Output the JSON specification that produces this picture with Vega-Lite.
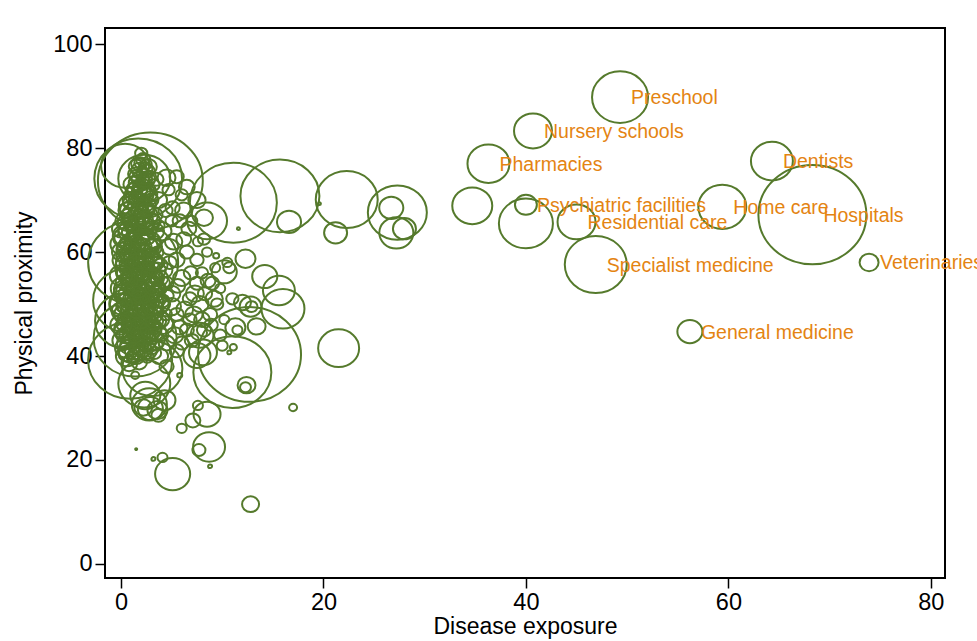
{
  "$schema": "https://vega.github.io/schema/vega-lite/v6.json",
  "width": 840,
  "height": 550,
  "autosize": {"type": "none"},
  "padding": {"left": 105, "top": 28, "right": 32, "bottom": 63},
  "background": "white",
  "config": {
    "view": {"stroke": "black", "strokeWidth": 2},
    "axis": {
      "domain": false, "grid": false,
      "labelColor": "black", "tickColor": "black", "titleColor": "black",
      "labelFont": "Liberation Sans", "titleFont": "Liberation Sans",
      "titleFontWeight": "normal", "tickWidth": 1.5, "tickSize": 10
    }
  },
  "data": {
    "values": [
      {"exposure": 49.3, "proximity": 89.8, "workers": 31.4, "label": "Preschool"},
      {"exposure": 40.7, "proximity": 83.3, "workers": 14.4, "label": "Nursery schools"},
      {"exposure": 36.3, "proximity": 77.0, "workers": 17.6, "label": "Pharmacies"},
      {"exposure": 64.3, "proximity": 77.5, "workers": 17.6, "label": "Dentists"},
      {"exposure": 68.3, "proximity": 67.2, "workers": 116.6, "label": "Hospitals"},
      {"exposure": 59.4, "proximity": 68.7, "workers": 23, "label": "Home care"},
      {"exposure": 40.0, "proximity": 69.1, "workers": 4.8, "label": "Psychiatric facilities"},
      {"exposure": 45.0, "proximity": 65.8, "workers": 14.4, "label": "Residential care"},
      {"exposure": 46.9, "proximity": 57.6, "workers": 38.4, "label": "Specialist medicine"},
      {"exposure": 56.2, "proximity": 44.7, "workers": 6.3, "label": "General medicine"},
      {"exposure": 73.9, "proximity": 58.0, "workers": 3.6, "label": "Veterinaries"},
      {"exposure": 40.0, "proximity": 65.5, "workers": 29.2},
      {"exposure": 34.7, "proximity": 68.9, "workers": 16},
      {"exposure": 11.1, "proximity": 69.5, "workers": 75.7},
      {"exposure": 15.7, "proximity": 70.8, "workers": 62.4},
      {"exposure": 16.6, "proximity": 65.8, "workers": 5.8},
      {"exposure": 11.6, "proximity": 64.5, "workers": 0.09},
      {"exposure": 22.3, "proximity": 70.1, "workers": 38.4},
      {"exposure": 21.2, "proximity": 63.7, "workers": 5.3},
      {"exposure": 27.3, "proximity": 67.6, "workers": 34.8},
      {"exposure": 26.7, "proximity": 68.5, "workers": 5.8},
      {"exposure": 27.2, "proximity": 63.7, "workers": 11.6},
      {"exposure": 28.0, "proximity": 64.5, "workers": 5.3},
      {"exposure": 19.6, "proximity": 69.3, "workers": 0.09},
      {"exposure": 8.5, "proximity": 66.0, "workers": 16},
      {"exposure": 8.2, "proximity": 66.6, "workers": 3.2},
      {"exposure": 14.2, "proximity": 55.3, "workers": 6.3},
      {"exposure": 15.6, "proximity": 52.6, "workers": 10.2},
      {"exposure": 16.0, "proximity": 49.1, "workers": 18.5},
      {"exposure": 12.7, "proximity": 40.3, "workers": 106},
      {"exposure": 11.0, "proximity": 36.9, "workers": 60.8},
      {"exposure": 21.5, "proximity": 41.5, "workers": 16.8},
      {"exposure": 17.0, "proximity": 30.1, "workers": 0.64},
      {"exposure": 12.4, "proximity": 34.4, "workers": 3.2},
      {"exposure": 12.3, "proximity": 34.0, "workers": 1.2},
      {"exposure": 11.1, "proximity": 41.7, "workers": 0.5},
      {"exposure": 10.7, "proximity": 40.7, "workers": 0.16},
      {"exposure": 12.8, "proximity": 49.5, "workers": 4.8},
      {"exposure": 12.9, "proximity": 49.5, "workers": 1.4},
      {"exposure": 11.3, "proximity": 45.5, "workers": 4},
      {"exposure": 13.4, "proximity": 45.7, "workers": 3.2},
      {"exposure": 10.2, "proximity": 56.2, "workers": 6.3},
      {"exposure": 9.4, "proximity": 59.3, "workers": 0.36},
      {"exposure": 8.1, "proximity": 40.7, "workers": 7.8},
      {"exposure": 5.1, "proximity": 17.3, "workers": 12.3},
      {"exposure": 4.1, "proximity": 20.5, "workers": 1},
      {"exposure": 3.2, "proximity": 20.2, "workers": 0.16},
      {"exposure": 1.5, "proximity": 22.1, "workers": 0.04},
      {"exposure": 8.7, "proximity": 22.5, "workers": 10.2},
      {"exposure": 7.7, "proximity": 21.9, "workers": 1.7},
      {"exposure": 8.8, "proximity": 18.8, "workers": 0.16},
      {"exposure": 12.8, "proximity": 11.5, "workers": 2.9},
      {"exposure": 6.0, "proximity": 26.1, "workers": 1},
      {"exposure": 8.5, "proximity": 28.8, "workers": 7.3},
      {"exposure": 2.3, "proximity": 34.7, "workers": 27},
      {"exposure": 2.8, "proximity": 30.7, "workers": 12.3},
      {"exposure": 2.9, "proximity": 29.9, "workers": 6.3},
      {"exposure": 3.6, "proximity": 29.6, "workers": 4},
      {"exposure": 2.2, "proximity": 30.1, "workers": 3.2},
      {"exposure": 7.5, "proximity": 40.1, "workers": 7.3},
      {"exposure": 7.8, "proximity": 44.0, "workers": 7.3},
      {"exposure": 5.8, "proximity": 36.3, "workers": 0.25},
      {"exposure": 1.4, "proximity": 36.3, "workers": 0.64},
      {"exposure": 7.1, "proximity": 27.6, "workers": 2.25},
      {"exposure": 7.6, "proximity": 30.5, "workers": 1},
      {"exposure": 3.1, "proximity": 37.6, "workers": 36},
      {"exposure": 0.9, "proximity": 39.2, "workers": 70.6},
      {"exposure": 2.9, "proximity": 73.7, "workers": 110},
      {"exposure": 1.7, "proximity": 74.1, "workers": 77},
      {"exposure": 2.3, "proximity": 74.1, "workers": 27},
      {"exposure": 4.5, "proximity": 74.3, "workers": 3.2},
      {"exposure": 2.7, "proximity": 76.4, "workers": 2.9},
      {"exposure": 0.4, "proximity": 76.6, "workers": 23},
      {"exposure": 1.2, "proximity": 58.0, "workers": 81},
      {"exposure": 1.4, "proximity": 43.4, "workers": 69},
      {"exposure": 0.7, "proximity": 50.7, "workers": 49},
      {"exposure": 0.4, "proximity": 46.8, "workers": 36},
      {"exposure": 2.4, "proximity": 32.4, "workers": 9},
      {"exposure": 4.3, "proximity": 31.5, "workers": 4.8},
      {"exposure": 3.7, "proximity": 28.6, "workers": 2},
      {"exposure": 10.7, "proximity": 57.0, "workers": 1.44},
      {"exposure": 12.0, "proximity": 50.3, "workers": 2.9},
      {"exposure": 12.3, "proximity": 58.7, "workers": 4},
      {"exposure": 0.3, "proximity": 48, "workers": 4},
      {"exposure": 0.5, "proximity": 52, "workers": 6},
      {"exposure": 0.8, "proximity": 55, "workers": 3},
      {"exposure": 1.0, "proximity": 50, "workers": 8},
      {"exposure": 1.2, "proximity": 46, "workers": 5},
      {"exposure": 1.5, "proximity": 53, "workers": 4},
      {"exposure": 1.8, "proximity": 49, "workers": 7},
      {"exposure": 2.0, "proximity": 56, "workers": 3},
      {"exposure": 2.2, "proximity": 51, "workers": 5},
      {"exposure": 2.5, "proximity": 47, "workers": 4},
      {"exposure": 0.6, "proximity": 58, "workers": 5},
      {"exposure": 1.1, "proximity": 60, "workers": 4},
      {"exposure": 1.6, "proximity": 62, "workers": 6},
      {"exposure": 2.1, "proximity": 59, "workers": 3},
      {"exposure": 2.6, "proximity": 54, "workers": 6},
      {"exposure": 0.4, "proximity": 44, "workers": 3},
      {"exposure": 0.9, "proximity": 42, "workers": 4},
      {"exposure": 1.4, "proximity": 44, "workers": 6},
      {"exposure": 1.9, "proximity": 45, "workers": 3},
      {"exposure": 2.4, "proximity": 43, "workers": 5},
      {"exposure": 0.7, "proximity": 64, "workers": 4},
      {"exposure": 1.3, "proximity": 66, "workers": 5},
      {"exposure": 1.8, "proximity": 68, "workers": 3},
      {"exposure": 2.3, "proximity": 65, "workers": 4},
      {"exposure": 2.8, "proximity": 62, "workers": 5},
      {"exposure": 1.0, "proximity": 70, "workers": 3},
      {"exposure": 1.6, "proximity": 72, "workers": 4},
      {"exposure": 2.1, "proximity": 71, "workers": 5},
      {"exposure": 2.6, "proximity": 69, "workers": 3},
      {"exposure": 1.9, "proximity": 74, "workers": 3},
      {"exposure": 0.2, "proximity": 56, "workers": 2},
      {"exposure": 0.5, "proximity": 61, "workers": 3},
      {"exposure": 0.8, "proximity": 47, "workers": 2},
      {"exposure": 1.3, "proximity": 57, "workers": 3},
      {"exposure": 1.7, "proximity": 58, "workers": 2},
      {"exposure": 2.4, "proximity": 57, "workers": 2},
      {"exposure": 2.9, "proximity": 50, "workers": 3},
      {"exposure": 3.1, "proximity": 55, "workers": 4},
      {"exposure": 3.3, "proximity": 48, "workers": 3},
      {"exposure": 3.0, "proximity": 45, "workers": 4},
      {"exposure": 2.7, "proximity": 41, "workers": 3},
      {"exposure": 1.5, "proximity": 40, "workers": 3},
      {"exposure": 0.6, "proximity": 40, "workers": 5},
      {"exposure": 3.4, "proximity": 52, "workers": 3},
      {"exposure": 3.6, "proximity": 58, "workers": 2},
      {"exposure": 3.2, "proximity": 61, "workers": 3},
      {"exposure": 3.0, "proximity": 66, "workers": 3},
      {"exposure": 2.7, "proximity": 72, "workers": 2},
      {"exposure": 1.2, "proximity": 63, "workers": 2},
      {"exposure": 0.3, "proximity": 66, "workers": 3},
      {"exposure": 1.1, "proximity": 53, "workers": 2},
      {"exposure": 1.4, "proximity": 49, "workers": 2},
      {"exposure": 1.9, "proximity": 52, "workers": 2},
      {"exposure": 2.3, "proximity": 48, "workers": 2},
      {"exposure": 0.9, "proximity": 51, "workers": 2},
      {"exposure": 2.1, "proximity": 63, "workers": 2},
      {"exposure": 1.6, "proximity": 66, "workers": 2},
      {"exposure": 2.0, "proximity": 70, "workers": 2},
      {"exposure": 1.4, "proximity": 75, "workers": 2},
      {"exposure": 2.4, "proximity": 76, "workers": 2},
      {"exposure": 2.2, "proximity": 73, "workers": 1.5},
      {"exposure": 1.7, "proximity": 77, "workers": 2},
      {"exposure": 2.0, "proximity": 79, "workers": 1.5},
      {"exposure": 0.4, "proximity": 50, "workers": 10},
      {"exposure": 1.2, "proximity": 52, "workers": 12},
      {"exposure": 2.0, "proximity": 50, "workers": 9},
      {"exposure": 0.8, "proximity": 45, "workers": 9},
      {"exposure": 1.6, "proximity": 47, "workers": 10},
      {"exposure": 0.9, "proximity": 57, "workers": 9},
      {"exposure": 1.8, "proximity": 55, "workers": 11},
      {"exposure": 2.7, "proximity": 58, "workers": 8},
      {"exposure": 0.5, "proximity": 63, "workers": 7},
      {"exposure": 1.5, "proximity": 67, "workers": 8},
      {"exposure": 2.4, "proximity": 67, "workers": 6},
      {"exposure": 1.1, "proximity": 41, "workers": 7},
      {"exposure": 2.2, "proximity": 44, "workers": 6},
      {"exposure": 1.0, "proximity": 69, "workers": 6},
      {"exposure": 2.3, "proximity": 61, "workers": 7},
      {"exposure": 3.5, "proximity": 50, "workers": 6},
      {"exposure": 3.2, "proximity": 43, "workers": 5},
      {"exposure": 2.9, "proximity": 53, "workers": 7},
      {"exposure": 0.2, "proximity": 53, "workers": 6},
      {"exposure": 1.4, "proximity": 59, "workers": 5},
      {"exposure": 1.7, "proximity": 42, "workers": 4},
      {"exposure": 2.8, "proximity": 46, "workers": 4},
      {"exposure": 0.6, "proximity": 68, "workers": 3},
      {"exposure": 2.5, "proximity": 74, "workers": 3},
      {"exposure": 1.1, "proximity": 73, "workers": 3},
      {"exposure": 3.0, "proximity": 70, "workers": 2},
      {"exposure": 3.4, "proximity": 64, "workers": 3},
      {"exposure": 3.8, "proximity": 55, "workers": 3},
      {"exposure": 3.9, "proximity": 47, "workers": 3},
      {"exposure": 0.1, "proximity": 60, "workers": 4},
      {"exposure": 4.0, "proximity": 50, "workers": 3},
      {"exposure": 4.5, "proximity": 54, "workers": 2},
      {"exposure": 4.2, "proximity": 46, "workers": 4},
      {"exposure": 5.0, "proximity": 52, "workers": 3},
      {"exposure": 5.5, "proximity": 48, "workers": 2},
      {"exposure": 4.8, "proximity": 58, "workers": 2},
      {"exposure": 5.2, "proximity": 62, "workers": 3},
      {"exposure": 4.0, "proximity": 64, "workers": 4},
      {"exposure": 5.8, "proximity": 66, "workers": 2},
      {"exposure": 6.2, "proximity": 68, "workers": 3},
      {"exposure": 6.5, "proximity": 60, "workers": 2},
      {"exposure": 6.0, "proximity": 55, "workers": 3},
      {"exposure": 6.8, "proximity": 51, "workers": 2},
      {"exposure": 7.2, "proximity": 48, "workers": 3},
      {"exposure": 7.5, "proximity": 54, "workers": 2},
      {"exposure": 7.8, "proximity": 50, "workers": 3},
      {"exposure": 8.3, "proximity": 52, "workers": 2},
      {"exposure": 8.0, "proximity": 56, "workers": 1.5},
      {"exposure": 8.8, "proximity": 48, "workers": 2},
      {"exposure": 9.0, "proximity": 54, "workers": 2},
      {"exposure": 9.5, "proximity": 50, "workers": 1.5},
      {"exposure": 9.3, "proximity": 57, "workers": 1},
      {"exposure": 6.5, "proximity": 45, "workers": 2},
      {"exposure": 5.3, "proximity": 44, "workers": 3},
      {"exposure": 7.0, "proximity": 43, "workers": 2},
      {"exposure": 8.2, "proximity": 45, "workers": 2},
      {"exposure": 3.8, "proximity": 40, "workers": 3},
      {"exposure": 4.5, "proximity": 38, "workers": 2},
      {"exposure": 5.5, "proximity": 41, "workers": 2},
      {"exposure": 9.8, "proximity": 44, "workers": 1.5},
      {"exposure": 10.2, "proximity": 47, "workers": 1},
      {"exposure": 3.7, "proximity": 70, "workers": 3},
      {"exposure": 4.4, "proximity": 68, "workers": 2},
      {"exposure": 5.0, "proximity": 66, "workers": 1.5},
      {"exposure": 3.5, "proximity": 74, "workers": 2},
      {"exposure": 4.7, "proximity": 72, "workers": 1.5},
      {"exposure": 6.0, "proximity": 71, "workers": 1.5},
      {"exposure": 7.0, "proximity": 66, "workers": 1.2},
      {"exposure": 7.6, "proximity": 62, "workers": 1},
      {"exposure": 8.5, "proximity": 60, "workers": 1},
      {"exposure": 9.8, "proximity": 53, "workers": 1},
      {"exposure": 10.5, "proximity": 58, "workers": 1},
      {"exposure": 11.0, "proximity": 51, "workers": 1.5},
      {"exposure": 11.5, "proximity": 45, "workers": 1},
      {"exposure": 10.0, "proximity": 42, "workers": 1.2},
      {"exposure": 0.3, "proximity": 42.5, "workers": 2},
      {"exposure": 0.9, "proximity": 43.2, "workers": 1.5},
      {"exposure": 1.6, "proximity": 42.0, "workers": 2.5},
      {"exposure": 2.2, "proximity": 42.8, "workers": 1.8},
      {"exposure": 2.9, "proximity": 43.5, "workers": 2.2},
      {"exposure": 3.5, "proximity": 42.2, "workers": 1.5},
      {"exposure": 0.1, "proximity": 44.8, "workers": 2.4},
      {"exposure": 0.7, "proximity": 45.5, "workers": 1.6},
      {"exposure": 1.3, "proximity": 44.6, "workers": 2.1},
      {"exposure": 2.0, "proximity": 45.9, "workers": 2.8},
      {"exposure": 2.6, "proximity": 44.4, "workers": 1.7},
      {"exposure": 3.3, "proximity": 45.6, "workers": 2.3},
      {"exposure": 4.0, "proximity": 44.1, "workers": 1.9},
      {"exposure": 0.4, "proximity": 47.1, "workers": 2.2},
      {"exposure": 1.0, "proximity": 47.8, "workers": 1.8},
      {"exposure": 1.7, "proximity": 46.5, "workers": 2.6},
      {"exposure": 2.3, "proximity": 47.3, "workers": 1.5},
      {"exposure": 3.0, "proximity": 47.9, "workers": 2.0},
      {"exposure": 3.7, "proximity": 46.8, "workers": 2.4},
      {"exposure": 4.4, "proximity": 48.0, "workers": 1.6},
      {"exposure": 0.2, "proximity": 49.6, "workers": 1.9},
      {"exposure": 0.8, "proximity": 49.0, "workers": 2.7},
      {"exposure": 1.5, "proximity": 50.1, "workers": 1.6},
      {"exposure": 2.1, "proximity": 49.4, "workers": 2.3},
      {"exposure": 2.7, "proximity": 50.3, "workers": 1.8},
      {"exposure": 3.4, "proximity": 49.2, "workers": 2.5},
      {"exposure": 4.1, "proximity": 50.6, "workers": 2.0},
      {"exposure": 0.5, "proximity": 51.9, "workers": 2.4},
      {"exposure": 1.1, "proximity": 52.6, "workers": 1.7},
      {"exposure": 1.8, "proximity": 51.5, "workers": 2.9},
      {"exposure": 2.4, "proximity": 52.8, "workers": 1.6},
      {"exposure": 3.1, "proximity": 51.8, "workers": 2.2},
      {"exposure": 3.8, "proximity": 52.9, "workers": 1.9},
      {"exposure": 4.6, "proximity": 51.6, "workers": 1.5},
      {"exposure": 0.2, "proximity": 54.3, "workers": 2.1},
      {"exposure": 0.9, "proximity": 54.9, "workers": 2.5},
      {"exposure": 1.5, "proximity": 54.0, "workers": 1.8},
      {"exposure": 2.2, "proximity": 55.2, "workers": 2.3},
      {"exposure": 2.8, "proximity": 54.4, "workers": 1.7},
      {"exposure": 3.5, "proximity": 55.0, "workers": 2.4},
      {"exposure": 4.2, "proximity": 54.1, "workers": 1.6},
      {"exposure": 0.5, "proximity": 56.8, "workers": 1.9},
      {"exposure": 1.2, "proximity": 57.4, "workers": 2.2},
      {"exposure": 1.9, "proximity": 56.6, "workers": 1.6},
      {"exposure": 2.5, "proximity": 57.7, "workers": 2.6},
      {"exposure": 3.2, "proximity": 56.9, "workers": 1.8},
      {"exposure": 3.9, "proximity": 57.5, "workers": 2.0},
      {"exposure": 0.3, "proximity": 59.3, "workers": 2.5},
      {"exposure": 1.0, "proximity": 59.9, "workers": 1.7},
      {"exposure": 1.6, "proximity": 59.1, "workers": 2.3},
      {"exposure": 2.3, "proximity": 60.2, "workers": 1.9},
      {"exposure": 2.9, "proximity": 59.4, "workers": 2.4},
      {"exposure": 3.6, "proximity": 60.0, "workers": 1.5},
      {"exposure": 0.6, "proximity": 61.8, "workers": 2.0},
      {"exposure": 1.3, "proximity": 62.5, "workers": 2.6},
      {"exposure": 1.9, "proximity": 61.6, "workers": 1.7},
      {"exposure": 2.6, "proximity": 62.7, "workers": 2.2},
      {"exposure": 3.3, "proximity": 61.9, "workers": 1.8},
      {"exposure": 0.4, "proximity": 64.4, "workers": 1.8},
      {"exposure": 1.1, "proximity": 65.0, "workers": 2.3},
      {"exposure": 1.7, "proximity": 64.2, "workers": 1.6},
      {"exposure": 2.4, "proximity": 65.3, "workers": 2.5},
      {"exposure": 3.0, "proximity": 64.6, "workers": 1.9},
      {"exposure": 3.7, "proximity": 65.1, "workers": 1.5},
      {"exposure": 0.7, "proximity": 67.0, "workers": 2.2},
      {"exposure": 1.4, "proximity": 67.6, "workers": 1.7},
      {"exposure": 2.0, "proximity": 66.8, "workers": 2.4},
      {"exposure": 2.7, "proximity": 67.9, "workers": 1.6},
      {"exposure": 3.4, "proximity": 67.2, "workers": 2.0},
      {"exposure": 0.9, "proximity": 69.5, "workers": 1.9},
      {"exposure": 1.5, "proximity": 70.1, "workers": 2.3},
      {"exposure": 2.2, "proximity": 69.3, "workers": 1.6},
      {"exposure": 2.9, "proximity": 70.4, "workers": 2.1},
      {"exposure": 1.2, "proximity": 72.0, "workers": 2.0},
      {"exposure": 1.8, "proximity": 72.7, "workers": 1.6},
      {"exposure": 2.5, "proximity": 71.8, "workers": 2.2},
      {"exposure": 3.2, "proximity": 72.9, "workers": 1.5},
      {"exposure": 1.5, "proximity": 74.6, "workers": 1.8},
      {"exposure": 2.1, "proximity": 75.3, "workers": 1.5},
      {"exposure": 2.8, "proximity": 74.4, "workers": 1.9},
      {"exposure": 1.9, "proximity": 77.2, "workers": 1.4},
      {"exposure": 2.5, "proximity": 76.9, "workers": 1.2},
      {"exposure": 0.5, "proximity": 40.3, "workers": 2.2},
      {"exposure": 1.2, "proximity": 39.6, "workers": 1.6},
      {"exposure": 1.9, "proximity": 40.4, "workers": 2.0},
      {"exposure": 2.6, "proximity": 39.8, "workers": 1.5},
      {"exposure": 3.3, "proximity": 40.6, "workers": 1.8},
      {"exposure": 0.6, "proximity": 43.8, "workers": 0.8},
      {"exposure": 1.3, "proximity": 48.3, "workers": 0.9},
      {"exposure": 2.0, "proximity": 53.5, "workers": 0.7},
      {"exposure": 2.7, "proximity": 58.3, "workers": 0.8},
      {"exposure": 0.8, "proximity": 60.7, "workers": 0.9},
      {"exposure": 1.5, "proximity": 56.2, "workers": 0.7},
      {"exposure": 2.3, "proximity": 46.0, "workers": 0.8},
      {"exposure": 1.0, "proximity": 63.3, "workers": 0.9},
      {"exposure": 1.8, "proximity": 65.8, "workers": 0.8},
      {"exposure": 2.5, "proximity": 50.9, "workers": 0.7},
      {"exposure": 0.5, "proximity": 53.2, "workers": 0.9},
      {"exposure": 3.0, "proximity": 56.0, "workers": 0.8},
      {"exposure": 1.2, "proximity": 45.2, "workers": 0.6},
      {"exposure": 2.1, "proximity": 68.0, "workers": 0.8},
      {"exposure": 1.6, "proximity": 71.2, "workers": 0.7},
      {"exposure": 3.5, "proximity": 53.6, "workers": 0.9},
      {"exposure": 0.3, "proximity": 57.9, "workers": 0.8},
      {"exposure": 2.8, "proximity": 48.6, "workers": 0.7},
      {"exposure": 1.9, "proximity": 43.6, "workers": 0.8},
      {"exposure": 1.0, "proximity": 55.6, "workers": 0.7},
      {"exposure": 4.3, "proximity": 56.5, "workers": 2.5},
      {"exposure": 5.0, "proximity": 49.5, "workers": 3.5},
      {"exposure": 5.6, "proximity": 53.5, "workers": 2.2},
      {"exposure": 6.3, "proximity": 49.0, "workers": 2.8},
      {"exposure": 6.9, "proximity": 56.0, "workers": 2.0},
      {"exposure": 7.3, "proximity": 52.0, "workers": 3.2},
      {"exposure": 8.0, "proximity": 47.0, "workers": 2.5},
      {"exposure": 8.6, "proximity": 54.5, "workers": 2.2},
      {"exposure": 9.2, "proximity": 51.0, "workers": 3.0},
      {"exposure": 5.5, "proximity": 58.5, "workers": 2.5},
      {"exposure": 6.2, "proximity": 62.5, "workers": 2.2},
      {"exposure": 4.8, "proximity": 61.0, "workers": 3.0},
      {"exposure": 5.8, "proximity": 45.5, "workers": 2.4},
      {"exposure": 6.8, "proximity": 47.0, "workers": 1.8},
      {"exposure": 7.7, "proximity": 44.5, "workers": 2.6},
      {"exposure": 8.9, "proximity": 46.0, "workers": 1.8},
      {"exposure": 4.5, "proximity": 42.5, "workers": 2.6},
      {"exposure": 6.0, "proximity": 42.5, "workers": 2.0},
      {"exposure": 7.5, "proximity": 58.5, "workers": 1.8},
      {"exposure": 8.2, "proximity": 62.5, "workers": 1.5},
      {"exposure": 5.1, "proximity": 68.5, "workers": 2.0},
      {"exposure": 6.7, "proximity": 64.5, "workers": 2.2},
      {"exposure": 6.5, "proximity": 72.5, "workers": 2.5},
      {"exposure": 7.5, "proximity": 70.0, "workers": 3.0},
      {"exposure": 5.5, "proximity": 74.5, "workers": 2.0},
      {"exposure": 0.2, "proximity": 43.0, "workers": 4.5},
      {"exposure": 0.8, "proximity": 44.2, "workers": 3.8},
      {"exposure": 1.5, "proximity": 45.3, "workers": 4.2},
      {"exposure": 2.2, "proximity": 43.9, "workers": 3.5},
      {"exposure": 2.9, "proximity": 45.0, "workers": 4.0},
      {"exposure": 3.6, "proximity": 44.6, "workers": 3.2},
      {"exposure": 0.5, "proximity": 46.2, "workers": 3.6},
      {"exposure": 1.9, "proximity": 47.0, "workers": 3.9},
      {"exposure": 3.3, "proximity": 46.7, "workers": 3.0},
      {"exposure": 0.1, "proximity": 48.6, "workers": 4.3},
      {"exposure": 0.9, "proximity": 48.2, "workers": 3.5},
      {"exposure": 1.6, "proximity": 49.2, "workers": 4.6},
      {"exposure": 2.4, "proximity": 48.9, "workers": 3.4},
      {"exposure": 3.1, "proximity": 49.6, "workers": 3.8},
      {"exposure": 0.6, "proximity": 50.5, "workers": 4.0},
      {"exposure": 1.3, "proximity": 51.1, "workers": 3.3},
      {"exposure": 2.1, "proximity": 52.0, "workers": 4.4},
      {"exposure": 2.8, "proximity": 51.3, "workers": 3.6},
      {"exposure": 3.6, "proximity": 51.0, "workers": 3.0},
      {"exposure": 0.3, "proximity": 52.8, "workers": 4.1},
      {"exposure": 1.0, "proximity": 53.7, "workers": 3.7},
      {"exposure": 1.7, "proximity": 53.1, "workers": 4.5},
      {"exposure": 2.5, "proximity": 54.0, "workers": 3.2},
      {"exposure": 3.3, "proximity": 53.4, "workers": 3.8},
      {"exposure": 0.6, "proximity": 55.8, "workers": 4.2},
      {"exposure": 1.4, "proximity": 55.0, "workers": 3.4},
      {"exposure": 2.1, "proximity": 56.3, "workers": 4.0},
      {"exposure": 2.9, "proximity": 55.7, "workers": 3.5},
      {"exposure": 3.6, "proximity": 56.5, "workers": 2.8},
      {"exposure": 0.2, "proximity": 58.4, "workers": 4.4},
      {"exposure": 0.9, "proximity": 59.2, "workers": 3.6},
      {"exposure": 1.7, "proximity": 58.6, "workers": 4.1},
      {"exposure": 2.4, "proximity": 59.0, "workers": 3.3},
      {"exposure": 3.1, "proximity": 58.2, "workers": 3.9},
      {"exposure": 0.5, "proximity": 60.4, "workers": 3.7},
      {"exposure": 1.3, "proximity": 61.3, "workers": 4.3},
      {"exposure": 2.1, "proximity": 61.0, "workers": 3.5},
      {"exposure": 2.9, "proximity": 60.9, "workers": 3.1},
      {"exposure": 0.3, "proximity": 62.9, "workers": 3.9},
      {"exposure": 1.0, "proximity": 63.8, "workers": 3.4},
      {"exposure": 1.8, "proximity": 63.2, "workers": 4.0},
      {"exposure": 2.6, "proximity": 64.0, "workers": 3.2},
      {"exposure": 0.6, "proximity": 65.7, "workers": 3.5},
      {"exposure": 1.5, "proximity": 65.2, "workers": 3.8},
      {"exposure": 2.3, "proximity": 66.3, "workers": 3.0},
      {"exposure": 3.1, "proximity": 65.9, "workers": 2.8},
      {"exposure": 0.8, "proximity": 68.1, "workers": 3.3},
      {"exposure": 1.6, "proximity": 68.9, "workers": 3.6},
      {"exposure": 2.4, "proximity": 68.4, "workers": 3.0},
      {"exposure": 1.2, "proximity": 71.0, "workers": 3.1},
      {"exposure": 2.0, "proximity": 71.6, "workers": 3.4},
      {"exposure": 2.8, "proximity": 71.2, "workers": 2.6},
      {"exposure": 1.6, "proximity": 73.3, "workers": 2.9},
      {"exposure": 2.3, "proximity": 73.9, "workers": 2.5},
      {"exposure": 1.8, "proximity": 75.8, "workers": 2.4},
      {"exposure": 2.2, "proximity": 77.8, "workers": 2.0},
      {"exposure": 1.5, "proximity": 76.5, "workers": 2.2},
      {"exposure": 2.6, "proximity": 75.6, "workers": 2.1},
      {"exposure": 0.4, "proximity": 41.5, "workers": 4.0},
      {"exposure": 1.3, "proximity": 41.0, "workers": 3.5},
      {"exposure": 2.1, "proximity": 41.3, "workers": 3.2},
      {"exposure": 3.0, "proximity": 41.8, "workers": 2.8},
      {"exposure": 0.8, "proximity": 38.5, "workers": 2.6},
      {"exposure": 1.8, "proximity": 38.8, "workers": 2.4},
      {"exposure": 0.0, "proximity": 50.0, "workers": 5},
      {"exposure": 0.0, "proximity": 55.5, "workers": 5},
      {"exposure": 0.0, "proximity": 46.0, "workers": 4.5},
      {"exposure": 0.0, "proximity": 61.5, "workers": 4.5},
      {"exposure": 0.1, "proximity": 64.5, "workers": 4.0}
    ]
  },
  "encoding": {
    "x": {
      "field": "exposure", "type": "quantitative",
      "scale": {"domain": [-1.58, 81.4], "nice": false, "zero": false},
      "axis": {"values": [0, 20, 40, 60, 80], "title": "Disease exposure", "labelFontSize": 23.5, "titleFontSize": 23, "labelPadding": 2, "titlePadding": 2}
    },
    "y": {
      "field": "proximity", "type": "quantitative",
      "scale": {"domain": [-2.7, 103.1], "nice": false, "zero": false},
      "axis": {"values": [0, 20, 40, 60, 80, 100], "title": "Physical proximity", "labelFontSize": 23.5, "titleFontSize": 23, "labelPadding": 3, "titlePadding": 16}
    }
  },
  "layer": [
    {
      "mark": {"type": "point", "filled": false, "strokeWidth": 2, "color": "#557a2c", "opacity": 1,
               "shape": "M -1 0 A 1 0.92 0 1 1 1 0 A 1 0.92 0 1 1 -1 0 Z"},
      "encoding": {
        "size": {"field": "workers", "type": "quantitative",
                 "scale": {"type": "linear", "domain": [0, 120], "range": [0, 12000]}, "legend": null}
      }
    },
    {
      "transform": [{"filter": "isValid(datum.label)"}],
      "mark": {"type": "text", "align": "left", "baseline": "middle", "dx": 11, "dy": 1,
               "color": "#e48412", "fontSize": 19.5, "font": "Liberation Sans"},
      "encoding": {"text": {"field": "label"}}
    }
  ]
}
